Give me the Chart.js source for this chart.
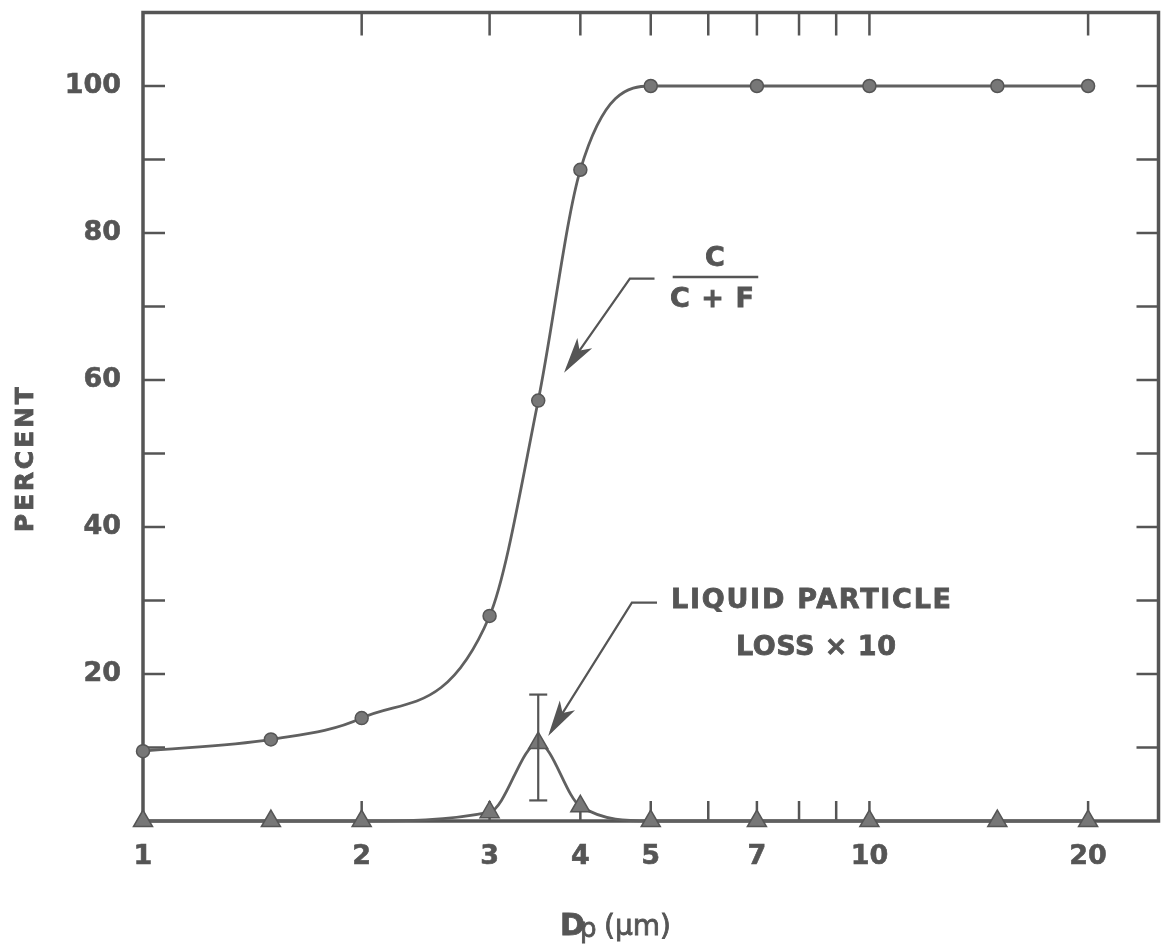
<!DOCTYPE html>
<html>
<head>
<meta charset="utf-8">
<script src="https://cdn.jsdelivr.net/npm/chart.js@4.4.1/dist/chart.umd.min.js"></script>
<style>
  html, body { margin: 0; padding: 0; background: #fff; }
  #box { width: 1171px; height: 949px; position: relative; }
</style>
</head>
<body>
<div id="box"><canvas id="myChart"></canvas></div>
<script>
// particle diameter Dp (um)
const sizes = [1, 1.5, 2, 3, 3.5, 4, 5, 7, 10, 15, 20];
// C / (C + F), percent
const collected = [9.5, 11.1, 14.0, 27.9, 57.2, 88.6, 100, 100, 100, 100, 100];
// liquid particle loss x 10, percent
const lossX10 = [0, 0, 0, 1.2, 10.6, 2.0, 0, 0, 0, 0, 0];
// error bar on the loss peak
const errSize = [3.5];
const errLow = [2.8];
const errHigh = [17.2];

const xLabels = [1, 2, 3, 4, 5, 7, 10, 20];
const yLabels = [20, 40, 60, 80, 100];
const xMarks = [2, 3, 4, 5, 6, 7, 8, 9, 10, 20];
const yMarks = [10, 20, 30, 40, 50, 60, 70, 80, 90, 100];

const ink = '#555';
const FONT = '"DejaVu Sans"';

function line(ctx, x1, y1, x2, y2) {
  ctx.beginPath(); ctx.moveTo(x1, y1); ctx.lineTo(x2, y2); ctx.stroke();
}

// text stretched to a given width with letter spacing
function spaced(ctx, text, cx, cy, size, width) {
  ctx.font = 'bold ' + size + 'px ' + FONT;
  ctx.letterSpacing = '0px';
  const w = ctx.measureText(text).width;
  const ls = text.length > 1 ? (width - w) / (text.length - 1) : 0;
  ctx.letterSpacing = ls + 'px';
  ctx.textAlign = 'left';
  ctx.textBaseline = 'middle';
  ctx.fillText(text, cx - width / 2, cy);
  ctx.strokeText(text, cx - width / 2, cy);
  ctx.letterSpacing = '0px';
}

function arrow(ctx, pts) {
  ctx.beginPath();
  ctx.moveTo(pts[0][0], pts[0][1]);
  for (let i = 1; i < pts.length; i++) ctx.lineTo(pts[i][0], pts[i][1]);
  ctx.stroke();
  const [tx, ty] = pts[pts.length - 1];
  const [bx, by] = pts[pts.length - 2];
  const a = Math.atan2(ty - by, tx - bx);
  const L = 28, W = 7, N = 21;
  const ux = Math.cos(a), uy = Math.sin(a);
  const px = -uy, py = ux;
  ctx.beginPath();
  ctx.moveTo(tx, ty);
  ctx.lineTo(tx - ux * L + px * W, ty - uy * L + py * W);
  ctx.lineTo(tx - ux * N, ty - uy * N);
  ctx.lineTo(tx - ux * L - px * W, ty - uy * L - py * W);
  ctx.closePath();
  ctx.fill();
  ctx.stroke();
}

const decor = {
  id: 'decor',
  beforeDatasetsDraw(chart) {
    const { ctx, chartArea: a, scales: { x, y } } = chart;
    ctx.save();
    ctx.strokeStyle = ink;
    ctx.lineWidth = 3.5;
    ctx.strokeRect(a.left, a.top, a.right - a.left, a.bottom - a.top);
    ctx.lineWidth = 2.5;
    yMarks.forEach(v => {
      const py = y.getPixelForValue(v);
      line(ctx, a.left, py, a.left + 22, py);
      line(ctx, a.right - 22, py, a.right, py);
    });
    xMarks.forEach(v => {
      const px = x.getPixelForValue(v);
      line(ctx, px, a.top, px, a.top + 23);
      line(ctx, px, a.bottom - 20, px, a.bottom);
    });
    ctx.restore();
  },
  afterDatasetsDraw(chart) {
    const { ctx, scales: { x, y } } = chart;
    const X = v => x.getPixelForValue(v);
    const Y = v => y.getPixelForValue(v);
    ctx.save();
    ctx.strokeStyle = ink;
    ctx.fillStyle = ink;

    // error bar
    ctx.lineWidth = 2.2;
    errSize.forEach((s, i) => {
      const px = X(s), lo = Y(errLow[i]), hi = Y(errHigh[i]);
      line(ctx, px, lo, px, hi);
      line(ctx, px - 9, lo, px + 9, lo);
      line(ctx, px - 9, hi, px + 9, hi);
    });

    // leaders
    ctx.lineWidth = 2.2;
    arrow(ctx, [[X(5.06), Y(73.8)], [X(4.68), Y(73.8)], [X(3.83), Y(61.5)]]);
    arrow(ctx, [[X(5.10), Y(29.7)], [X(4.71), Y(29.7)], [X(3.64), Y(12.1)]]);

    // labels
    ctx.lineWidth = 0.8;
    spaced(ctx, 'C', X(6.10), Y(76.4), 27, 17);
    ctx.lineWidth = 2.5;
    line(ctx, X(5.36), Y(74.0), X(7.03), Y(74.0));
    ctx.lineWidth = 0.8;
    spaced(ctx, 'C + F', X(6.07), Y(70.9), 27, 84);
    spaced(ctx, 'LIQUID PARTICLE', X(8.31), Y(29.9), 27, 280);
    spaced(ctx, 'LOSS \u00d7 10', X(8.44), Y(23.6), 27, 160);

    // axis titles
    ctx.save();
    ctx.translate(26, (chart.chartArea.top + chart.chartArea.bottom) / 2 + 43);
    ctx.rotate(-Math.PI / 2);
    spaced(ctx, 'PERCENT', 0, 0, 25, 145);
    ctx.restore();

    ctx.textAlign = 'left';
    ctx.textBaseline = 'alphabetic';
    ctx.font = 'bold 30px ' + FONT;
    ctx.fillText('D', 560, 935);
    ctx.strokeText('D', 560, 935);
    ctx.font = '26px ' + FONT;
    ctx.fillText('p', 580, 937);
    ctx.strokeText('p', 580, 937);
    ctx.font = '28px ' + FONT;
    ctx.fillText('(\u03bcm)', 604, 935);
    ctx.strokeText('(\u03bcm)', 604, 935);
    ctx.restore();
  }
};

const tickFont = { family: FONT, size: 27, weight: 'bold' };

new Chart(document.getElementById('myChart'), {
  type: 'line',
  data: {
    datasets: [
      {
        label: 'C / (C + F)',
        data: sizes.map((s, i) => ({ x: s, y: collected[i] })),
        borderColor: '#606060',
        borderWidth: 2.8,
        cubicInterpolationMode: 'monotone',
        pointStyle: 'circle',
        pointRadius: 6.5,
        pointBackgroundColor: '#777',
        pointBorderColor: '#555',
        pointBorderWidth: 1.5,
        clip: false
      },
      {
        label: 'Liquid particle loss x 10',
        data: sizes.map((s, i) => ({ x: s, y: lossX10[i] })),
        borderColor: '#606060',
        borderWidth: 2.8,
        cubicInterpolationMode: 'monotone',
        pointStyle: 'triangle',
        pointRadius: 11,
        pointBackgroundColor: '#777',
        pointBorderColor: '#555',
        pointBorderWidth: 1.5,
        clip: false
      }
    ]
  },
  options: {
    responsive: true,
    maintainAspectRatio: false,
    animation: false,
    events: [],
    layout: { padding: { top: 8, right: 3, left: 0, bottom: 0 } },
    plugins: { legend: { display: false }, tooltip: { enabled: false } },
    scales: {
      x: {
        type: 'logarithmic',
        min: 1,
        max: 25,
        grid: { display: false, drawTicks: false },
        border: { display: false },
        afterBuildTicks: s => { s.ticks = xLabels.map(v => ({ value: v })); },
        afterFit: s => { s.height = 128; s.paddingLeft = 0; s.paddingRight = 0; },
        ticks: {
          autoSkip: false, maxRotation: 0, padding: 20,
          color: ink, font: tickFont,
          textStrokeColor: ink, textStrokeWidth: 0.6,
          callback: v => String(v)
        }
      },
      y: {
        min: 0,
        max: 110,
        grid: { display: false, drawTicks: false },
        border: { display: false },
        afterBuildTicks: s => { s.ticks = yLabels.map(v => ({ value: v })); },
        afterFit: s => { s.width = 143; s.paddingTop = 0; s.paddingBottom = 0; },
        ticks: {
          padding: 22,
          color: ink, font: tickFont,
          textStrokeColor: ink, textStrokeWidth: 0.6,
          callback: v => String(v)
        }
      }
    }
  },
  plugins: [decor]
});
</script>
</body>
</html>
